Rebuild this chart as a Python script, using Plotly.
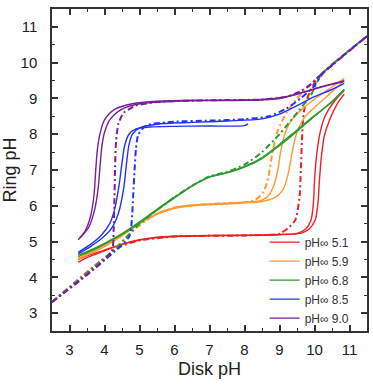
import plotly.graph_objects as go

# ---------------- data ----------------
LABELS = ["pH\u221e 5.1", "pH\u221e 5.9", "pH\u221e 6.8", "pH\u221e 8.5", "pH\u221e 9.0"]
COLORS = ["#ee2024", "#ff9a33", "#2f9a2f", "#2233ff", "#7a1f9a"]

# red (pH 5.1)
RED_S1_X = [3.25, 3.5, 4.0, 4.5, 5.0, 5.5, 6.0, 7.0, 8.0, 9.0, 9.5, 9.75, 9.9, 9.97, 10.0, 10.06, 10.15, 10.3, 10.55, 10.85]
RED_S1_Y = [4.42, 4.55, 4.74, 4.92, 5.04, 5.11, 5.14, 5.16, 5.17, 5.19, 5.23, 5.35, 5.6, 6.1, 6.7, 7.4, 8.0, 8.5, 8.9, 9.22]
RED_S2_X = [3.25, 3.5, 4.0, 4.5, 5.0, 5.5, 6.0, 7.0, 8.0, 9.0, 9.6, 9.85, 10.02, 10.1, 10.14, 10.2, 10.28, 10.43, 10.65, 10.85]
RED_S2_Y = [4.5, 4.6, 4.76, 4.93, 5.05, 5.12, 5.15, 5.17, 5.18, 5.2, 5.23, 5.35, 5.6, 6.1, 6.7, 7.4, 7.95, 8.4, 8.85, 9.12]
RED_D_X = [2.5, 3.9, 4.5, 5.0, 6.0, 7.0, 8.0, 9.0, 9.25, 9.45, 9.57, 9.61, 9.64, 9.68, 9.75, 9.9, 10.1, 11.5]
RED_D_Y = [3.31, 4.47, 4.88, 5.03, 5.14, 5.16, 5.17, 5.22, 5.38, 5.6, 6.2, 7.0, 7.8, 8.5, 8.9, 9.25, 9.59, 10.74]

# orange (pH 5.9)
ORA_S1_X = [3.25, 3.6, 4.0, 4.5, 5.0, 5.5, 6.0, 6.5, 7.0, 7.5, 8.0, 8.5, 8.7, 8.85, 8.95, 9.04, 9.15, 9.35, 9.7, 10.1, 10.5, 10.85]
ORA_S1_Y = [4.5, 4.66, 4.86, 5.16, 5.5, 5.78, 5.95, 6.02, 6.05, 6.07, 6.1, 6.16, 6.3, 6.6, 7.0, 7.55, 8.0, 8.4, 8.75, 9.05, 9.32, 9.56]
ORA_S2_X = [3.25, 3.6, 4.0, 4.5, 5.0, 5.5, 6.0, 6.5, 7.0, 7.5, 8.0, 8.5, 8.9, 9.1, 9.25, 9.37, 9.5, 9.7, 10.0, 10.4, 10.85]
ORA_S2_Y = [4.54, 4.7, 4.89, 5.18, 5.5, 5.76, 5.93, 6.0, 6.03, 6.05, 6.08, 6.12, 6.25, 6.45, 6.9, 7.55, 8.05, 8.45, 8.75, 9.1, 9.5]
ORA_D_X = [2.5, 4.2, 4.6, 5.0, 5.5, 6.0, 7.0, 8.0, 8.3, 8.55, 8.68, 8.81, 8.95, 9.2, 9.5, 9.8, 10.05, 11.5]
ORA_D_Y = [3.31, 4.71, 5.1, 5.45, 5.78, 5.95, 6.05, 6.1, 6.16, 6.4, 6.8, 7.55, 8.1, 8.6, 9.0, 9.3, 9.55, 10.74]

# green (pH 6.8)
GRN_S1_X = [3.25, 3.6, 4.0, 4.5, 5.0, 5.5, 6.0, 6.5, 7.0, 7.5, 8.0, 8.5, 9.0, 9.5, 10.0, 10.5, 10.85]
GRN_S1_Y = [4.58, 4.73, 4.93, 5.2, 5.52, 5.88, 6.22, 6.55, 6.8, 6.92, 7.08, 7.32, 7.68, 8.08, 8.5, 8.92, 9.26]
GRN_S2_X = [3.25, 3.6, 4.0, 4.5, 5.0, 5.5, 6.0, 6.5, 7.0, 7.5, 8.0, 8.5, 9.0, 9.5, 10.0, 10.5, 10.85]
GRN_S2_Y = [4.62, 4.76, 4.95, 5.22, 5.55, 5.9, 6.24, 6.56, 6.81, 6.93, 7.1, 7.35, 7.72, 8.12, 8.52, 8.9, 9.24]
GRN_D_X = [2.5, 4.3, 4.7, 5.0, 5.5, 6.0, 6.5, 7.0, 7.5, 8.0, 8.5, 9.0, 9.5, 9.9, 10.2, 11.5]
GRN_D_Y = [3.31, 4.79, 5.2, 5.5, 5.88, 6.24, 6.56, 6.82, 6.95, 7.15, 7.5, 8.0, 8.6, 9.1, 9.67, 10.74]

# blue (pH 8.5)
BLU_S1_X = [3.25, 3.6, 3.9, 4.15, 4.3, 4.42, 4.5, 4.58, 4.7, 4.9, 5.3, 6.0, 7.0, 8.0, 8.1]
BLU_S1_Y = [4.7, 4.92, 5.17, 5.5, 5.95, 6.6, 7.2, 7.7, 8.0, 8.15, 8.2, 8.22, 8.23, 8.24, 8.29]
BLU_S2_X = [3.25, 3.6, 3.9, 4.2, 4.4, 4.55, 4.63, 4.7, 4.8, 5.0, 5.5, 6.5, 7.5, 8.5, 9.0, 9.5, 10.0, 10.5, 10.85]
BLU_S2_Y = [4.66, 4.86, 5.07, 5.37, 5.8, 6.5, 7.2, 7.7, 8.0, 8.18, 8.28, 8.33, 8.37, 8.43, 8.56, 8.8, 9.05, 9.25, 9.42]
BLU_D_X = [2.5, 4.7, 4.78, 4.82, 4.86, 4.9, 4.97, 5.2, 6.0, 7.0, 8.0, 8.7, 9.2, 9.6, 9.95, 10.25, 11.5]
BLU_D_Y = [3.31, 5.13, 5.6, 6.3, 7.0, 7.6, 8.0, 8.25, 8.35, 8.38, 8.42, 8.5, 8.72, 9.0, 9.3, 9.71, 10.74]

# purple (pH 9.0)
PUR_S1_X = [3.25, 3.45, 3.6, 3.7, 3.75, 3.8, 3.88, 4.0, 4.3, 4.8, 5.5, 6.5, 7.5, 8.5, 9.2, 9.7, 10.2, 10.85]
PUR_S1_Y = [5.05, 5.3, 5.7, 6.3, 7.0, 7.6, 8.05, 8.4, 8.7, 8.85, 8.92, 8.95, 8.95, 8.97, 9.05, 9.18, 9.33, 9.5]
PUR_S2_X = [3.3, 3.55, 3.72, 3.82, 3.88, 3.93, 4.0, 4.15, 4.5, 5.0, 6.0, 7.0, 8.0, 9.0, 9.6, 10.2, 10.85]
PUR_S2_Y = [5.1, 5.4, 5.9, 6.5, 7.2, 7.7, 8.05, 8.4, 8.7, 8.85, 8.92, 8.94, 8.95, 9.0, 9.15, 9.32, 9.47]
PUR_D_X = [2.5, 4.2, 4.26, 4.28, 4.3, 4.33, 4.4, 4.55, 4.9, 5.5, 7.0, 8.5, 9.2, 9.6, 9.9, 10.05, 11.5]
PUR_D_Y = [3.31, 4.71, 5.3, 6.0, 7.0, 7.8, 8.3, 8.6, 8.8, 8.9, 8.95, 8.97, 9.05, 9.2, 9.4, 9.55, 10.74]

X_TICKS = [3, 4, 5, 6, 7, 8, 9, 10, 11]
Y_TICKS = [3, 4, 5, 6, 7, 8, 9, 10, 11]

GROUPS = [
    (RED_S1_X, RED_S1_Y, RED_S2_X, RED_S2_Y, RED_D_X, RED_D_Y),
    (ORA_S1_X, ORA_S1_Y, ORA_S2_X, ORA_S2_Y, ORA_D_X, ORA_D_Y),
    (GRN_S1_X, GRN_S1_Y, GRN_S2_X, GRN_S2_Y, GRN_D_X, GRN_D_Y),
    (BLU_S1_X, BLU_S1_Y, BLU_S2_X, BLU_S2_Y, BLU_D_X, BLU_D_Y),
    (PUR_S1_X, PUR_S1_Y, PUR_S2_X, PUR_S2_Y, PUR_D_X, PUR_D_Y),
]

fig = go.Figure()
for (s1x, s1y, s2x, s2y, dx, dy), col, lab in zip(GROUPS, COLORS, LABELS):
    fig.add_trace(go.Scatter(x=s1x, y=s1y, mode="lines", name=lab, legendgroup=lab,
                             line=dict(color=col, width=1.4, shape="spline", smoothing=0.8)))
    fig.add_trace(go.Scatter(x=s2x, y=s2y, mode="lines", name=lab, legendgroup=lab, showlegend=False,
                             line=dict(color=col, width=1.4, shape="spline", smoothing=0.8)))
    fig.add_trace(go.Scatter(x=dx, y=dy, mode="lines", name=lab, legendgroup=lab, showlegend=False,
                             line=dict(color=col, width=2, dash="6px,3px,2px,3px", shape="spline", smoothing=0.6)))

axis_common = dict(
    range=[2.5, 11.5], showgrid=False, zeroline=False,
    showline=True, linecolor="#333333", linewidth=1.5, mirror="allticks",
    ticks="inside", ticklen=6, tickwidth=1.5, tickcolor="#333333",
    minor=dict(ticks="inside", ticklen=3, tickwidth=1.2, tickcolor="#333333", dtick=0.5),
    tickfont=dict(family="Arial, Liberation Sans", size=15, color="#222222"),
)

fig.update_layout(
    width=373, height=384,
    margin=dict(l=46, r=4, t=9, b=53),
    paper_bgcolor="white", plot_bgcolor="white",
    showlegend=True,
    legend=dict(x=0.675, y=-0.005, xanchor="left", yanchor="bottom",
                bgcolor="rgba(0,0,0,0)", tracegroupgap=0, itemwidth=30,
                font=dict(family="Arial, Liberation Sans", size=12, color="#333333")),
    xaxis=dict(axis_common, tickvals=X_TICKS, ticklabelstandoff=4,
               title=dict(text="Disk pH", font=dict(family="Arial, Liberation Sans", size=18, color="#222222"), standoff=6)),
    yaxis=dict(axis_common, tickvals=Y_TICKS, ticklabelstandoff=10,
               title=dict(text="Ring pH", font=dict(family="Arial, Liberation Sans", size=18, color="#222222"), standoff=4)),
)

fig.write_html("out.html")
